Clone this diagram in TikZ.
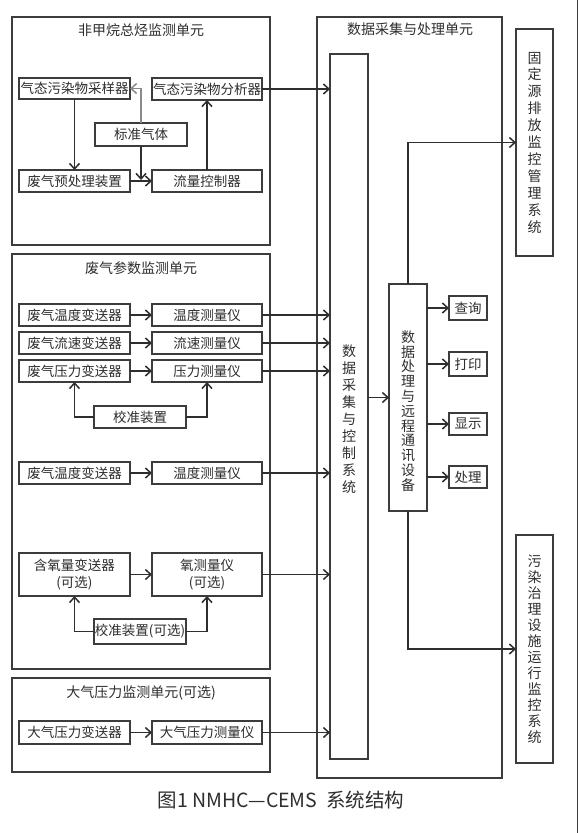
\documentclass[tikz,border=0pt]{standalone}
\usepackage{fontspec}
\setmainfont{Noto Sans CJK SC}
\usetikzlibrary{arrows.meta}
\definecolor{boxc}{HTML}{3C3C3C}
\definecolor{linec}{HTML}{2E2E2E}
\definecolor{txt}{HTML}{2E2E2E}
\definecolor{lightl}{HTML}{8A8A8A}
\tikzset{
  unit/.style={draw=boxc, line width=1.3pt, inner sep=0pt, outer sep=0pt},
  box/.style={draw=boxc, line width=1.3pt, inner sep=0pt, outer sep=0pt, text=txt,
    font=\fontsize{13.5}{17}\selectfont, align=center},
  ttl/.style={text=txt, font=\fontsize{14}{17}\selectfont, inner sep=0pt},
  vtxt/.style={text=txt, align=center, inner sep=0pt},
  arr/.style={draw=linec, line width=1.5pt, -{Straight Barb[length=5.5pt,width=10pt,line width=1.5pt]}},
}
\begin{document}
\begin{tikzpicture}[x=1pt,y=-1pt]
\useasboundingbox (0,0) rectangle (580,833);
\fill[white] (0,0) rectangle (580,833);
\coordinate (rt) at (577.5,0);
\coordinate (rb) at (577.5,833);
\draw[line width=1.2pt, draw=boxc] (rt) -- (rb);

% ---------- Unit 1 ----------
\node[unit, minimum width=258, minimum height=228] (u1) at (141,131) {};
\node[ttl] (t1) at (141,30) {非甲烷总烃监测单元};
\node[box, minimum width=111, minimum height=21] (s1) at (74.5,88.5) {气态污染物采样器};
\node[box, minimum width=110, minimum height=22] (a1) at (207,89) {气态污染物分析器};
\node[box, minimum width=92, minimum height=23] (g1) at (141,134.5) {标准气体};
\node[box, minimum width=111, minimum height=22] (p1) at (74.5,181) {废气预处理装置};
\node[box, minimum width=110, minimum height=22] (f1) at (207,181) {流量控制器};
\coordinate (gj) at (141,180);
\draw[arr] (s1.south) -- (p1.north);
\draw[arr, draw=lightl] (g1.north) |- (s1.east);
\draw[arr] (p1.east) -- (f1.west);
\draw[arr] (g1.south) -- (gj);
\draw[arr] (f1.north) -- (a1.south);

% ---------- Unit 2 ----------
\node[unit, minimum width=258, minimum height=415] (u2) at (141,461.5) {};
\node[ttl] (t2) at (141,268) {废气参数监测单元};
\node[box, minimum width=111, minimum height=22] (tt1) at (74.5,315) {废气温度变送器};
\node[box, minimum width=110, minimum height=22] (tm1) at (207,315) {温度测量仪};
\node[box, minimum width=111, minimum height=22] (vt1) at (74.5,343) {废气流速变送器};
\node[box, minimum width=110, minimum height=22] (vm1) at (207,343) {流速测量仪};
\node[box, minimum width=111, minimum height=22] (pt1) at (74.5,371) {废气压力变送器};
\node[box, minimum width=110, minimum height=22] (pm1) at (207,371) {压力测量仪};
\node[box, minimum width=92, minimum height=22] (c1) at (140,417) {校准装置};
\node[box, minimum width=111, minimum height=22] (tt2) at (74.5,473) {废气温度变送器};
\node[box, minimum width=110, minimum height=22] (tm2) at (207,473) {温度测量仪};
\node[box, minimum width=111, minimum height=43] (ot) at (74.5,574.5) {含氧量变送器\\(可选)};
\node[box, minimum width=110, minimum height=43] (om) at (207,574.5) {氧测量仪\\(可选)};
\node[box, minimum width=92, minimum height=25] (c2) at (140,631.5) {校准装置(可选)};
\draw[arr] (tt1.east) -- (tm1.west);
\draw[arr] (vt1.east) -- (vm1.west);
\draw[arr] (pt1.east) -- (pm1.west);
\draw[arr] (c1.west) -| (pt1.south);
\draw[arr] (c1.east) -| (pm1.south);
\draw[arr] (tt2.east) -- (tm2.west);
\draw[arr] (ot.east) -- (om.west);
\draw[arr] (c2.west) -| (ot.south);
\draw[arr] (c2.east) -| (om.south);

% ---------- Unit 3 ----------
\node[unit, minimum width=258, minimum height=94] (u3) at (141,725) {};
\node[ttl] (t3) at (141,693) {大气压力监测单元(可选)};
\node[box, minimum width=111, minimum height=23] (at) at (74.5,732.5) {大气压力变送器};
\node[box, minimum width=110, minimum height=23] (am) at (207,732.5) {大气压力测量仪};
\draw[arr] (at.east) -- (am.west);

% ---------- Data unit ----------
\node[unit, minimum width=185, minimum height=761] (u4) at (409.5,397.5) {};
\node[ttl] (t4) at (410,29) {数据采集与处理单元};
\node[box, minimum width=38, minimum height=705] (dac) at (349,406.5) {};
\node[vtxt, font=\fontsize{14}{17}\selectfont] (dact) at (349,419) {数\\据\\采\\集\\与\\控\\制\\系\\统};
\node[box, minimum width=38, minimum height=227] (dpc) at (408,397.5) {};
\node[vtxt, font=\fontsize{14}{14.8}\selectfont] (dpct) at (408,411) {数\\据\\处\\理\\与\\远\\程\\通\\讯\\设\\备};
\node[box, minimum width=38, minimum height=24] (q1) at (468,308) {查询};
\node[box, minimum width=38, minimum height=24] (q2) at (468,364) {打印};
\node[box, minimum width=38, minimum height=22] (q3) at (468,424) {显示};
\node[box, minimum width=38, minimum height=22] (q4) at (468,477) {处理};
\node[box, minimum width=37, minimum height=227, font=\fontsize{14}{16.9}\selectfont] (fs) at (534.5,142.5) {固\\定\\源\\排\\放\\监\\控\\管\\理\\系\\统};
\node[box, minimum width=37, minimum height=228, font=\fontsize{14}{16}\selectfont] (pol) at (534.5,649) {污\\染\\治\\理\\设\\施\\运\\行\\监\\控\\系\\统};

\draw[arr] (a1.east) -- (a1.east -| dac.west);
\draw[arr] (tm1.east) -- (tm1.east -| dac.west);
\draw[arr] (vm1.east) -- (vm1.east -| dac.west);
\draw[arr] (pm1.east) -- (pm1.east -| dac.west);
\draw[arr] (tm2.east) -- (tm2.east -| dac.west);
\draw[arr] (om.east) -- (om.east -| dac.west);
\draw[arr] (am.east) -- (am.east -| dac.west);
\draw[arr] (dac.east |- dpc.west) -- (dpc.west);
\draw[arr] (dpc.east |- q1.west) -- (q1.west);
\draw[arr] (dpc.east |- q2.west) -- (q2.west);
\draw[arr] (dpc.east |- q3.west) -- (q3.west);
\draw[arr] (dpc.east |- q4.west) -- (q4.west);
\draw[arr] (dpc.north) |- (fs.west);
\draw[arr] (dpc.south) |- (pol.west);

% ---------- Caption ----------
\node[text=txt, font=\fontsize{19.5}{22}\selectfont, inner sep=0pt] (cap) at (281,800) {图1 NMHC—CEMS\ \ 系统结构};
\end{tikzpicture}
\end{document}
